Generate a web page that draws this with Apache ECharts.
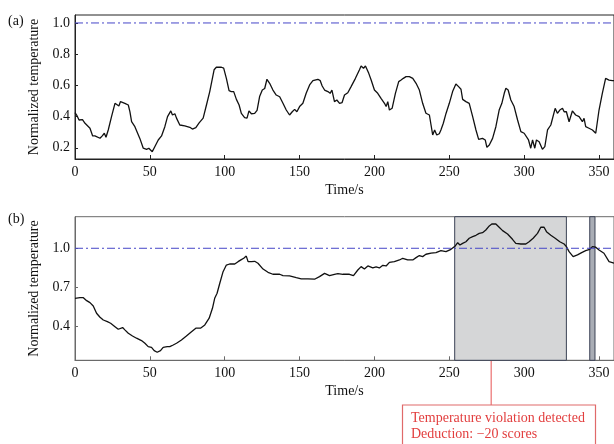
<!DOCTYPE html>
<html>
<head>
<meta charset="utf-8">
<script src="https://cdn.jsdelivr.net/npm/echarts@6/dist/echarts.min.js"></script>
<style>
  html, body { margin: 0; padding: 0; background: #fff; }
  #chart { width: 614px; height: 444px; }
</style>
</head>
<body>
<div id="chart"></div>
<script>
// Panel (a): normalized temperature over time
const timeA = [0,1.1,2.7,4,5,6.7,10,11.8,13.3,14.4,16.7,18.2,19.6,20.7,22.2,24.4,26.7,27.8,29.3,30.4,33.3,35.6,36.7,37.8,40,43.3,45.6,47.8,49.3,51.6,53.3,55.6,57.8,60,61.8,64,65.1,66.7,67.8,70,73.3,76.7,78.4,80.7,82.9,85.6,87.8,90,92.9,94.4,97.8,99.3,101.1,102.9,104.4,106,107.8,109.6,111.1,113.3,114.9,116.2,117.8,120,121.6,123.3,125.1,126.7,128.2,130,132.2,134.4,136.7,138.9,141.1,143.3,145.1,146.7,148.2,150,152.2,154.4,156.7,158.9,160,162.2,163.8,165.1,166.7,168.9,170.4,171.6,173.3,174.9,176.7,178.4,180,182.2,184.4,187.3,190,191.1,192.7,194,196.2,197.8,200,202.2,204.4,206.7,207.8,208.9,210,211.8,214,216.2,217.8,219.3,221.1,223.3,225.6,227.8,230,232.2,234.4,236.7,237.8,238.9,240.2,241.6,243.3,244.4,246,247.8,250,252.2,254.4,256.2,257.8,258.9,261.1,263.3,265.6,267.8,269.6,272.2,274,275.1,276.7,278.9,281.1,283.3,285.1,286.7,287.8,289.3,291.1,293.3,295.6,297.8,300,302.9,304.4,305.6,307.1,308.2,310,312.2,313.8,315.6,317.8,320.7,322.2,323.8,325.6,326.7,328.2,330,332.2,334.4,336.7,338.9,340,341.1,343.3,345.6,347.8,350,352.2,354.4,356.7,358.9,360];
const tempA = [0.425,0.41,0.378,0.39,0.38,0.357,0.325,0.276,0.276,0.267,0.261,0.276,0.293,0.267,0.314,0.40,0.485,0.496,0.468,0.496,0.485,0.474,0.43,0.367,0.335,0.26,0.197,0.19,0.197,0.175,0.207,0.25,0.276,0.335,0.40,0.436,0.41,0.418,0.39,0.346,0.34,0.331,0.32,0.329,0.36,0.39,0.474,0.56,0.70,0.716,0.716,0.71,0.645,0.566,0.56,0.56,0.51,0.474,0.42,0.393,0.39,0.436,0.418,0.42,0.44,0.528,0.57,0.58,0.639,0.613,0.57,0.538,0.527,0.485,0.442,0.41,0.431,0.446,0.431,0.464,0.485,0.549,0.603,0.63,0.634,0.639,0.63,0.596,0.57,0.56,0.549,0.57,0.496,0.506,0.485,0.49,0.538,0.553,0.592,0.645,0.70,0.724,0.71,0.724,0.677,0.634,0.57,0.549,0.517,0.485,0.464,0.496,0.442,0.453,0.549,0.624,0.634,0.645,0.656,0.656,0.645,0.613,0.57,0.485,0.421,0.41,0.346,0.282,0.314,0.282,0.29,0.314,0.357,0.42,0.485,0.56,0.609,0.592,0.575,0.51,0.496,0.485,0.40,0.314,0.254,0.26,0.25,0.203,0.218,0.26,0.335,0.442,0.485,0.549,0.581,0.57,0.506,0.464,0.378,0.303,0.293,0.25,0.197,0.25,0.197,0.25,0.239,0.19,0.207,0.314,0.346,0.453,0.421,0.442,0.453,0.431,0.431,0.367,0.436,0.41,0.40,0.367,0.389,0.335,0.325,0.314,0.293,0.442,0.549,0.645,0.634,0.63,0.63];

// Panel (b): normalized temperature over time
const timeB = [0,1.1,3.3,5.6,7.8,10,12.2,14.4,16.7,18.9,21.6,23.8,26.7,28.9,31.8,33.3,35.6,38.4,41.1,44.4,46.7,48.9,51.1,52.9,54.9,57.1,58.9,61.6,63.3,65.6,67.8,71.1,74.4,77.8,80.7,83.8,86.7,89.6,91.8,93.3,94.9,96.7,98.9,101.1,103.3,106.7,108.9,111.1,112.7,114.4,115.6,117.8,120,122.2,125.6,128.9,132.2,136.7,138.9,143.3,147.8,151.1,152.2,155.6,160,163.3,166.7,170,173.3,175.6,178.9,183.3,186,188.9,191.1,193.3,195.6,198.9,201.1,203.3,205.6,207.8,210,213.3,216.7,218.9,222.2,225.6,227.8,230,232.2,234.4,237.8,241.1,244.4,247.8,251.1,254,255.6,257.1,258.9,261.1,263.3,265.6,267.8,270,272.2,274.4,276.7,278.4,281.1,283.3,285.6,288.9,292.2,294.4,297.8,301.1,303.3,306,308.9,311.1,313.3,314.9,317.8,320.7,323.8,326.7,328.2,330,332.7,335.6,338.4,341.1,343.8,345.6,347.8,350,353.3,356.7,358.9,360];
const tempB = [0.615,0.628,0.62,0.62,0.597,0.582,0.556,0.50,0.469,0.448,0.436,0.423,0.397,0.377,0.39,0.372,0.346,0.325,0.308,0.29,0.269,0.243,0.238,0.212,0.2,0.212,0.238,0.243,0.243,0.256,0.269,0.294,0.325,0.358,0.385,0.385,0.41,0.462,0.538,0.615,0.654,0.731,0.82,0.871,0.879,0.879,0.897,0.913,0.923,0.94,0.897,0.897,0.9,0.885,0.84,0.815,0.80,0.80,0.79,0.788,0.774,0.764,0.749,0.764,0.762,0.782,0.807,0.79,0.80,0.805,0.80,0.80,0.79,0.833,0.859,0.841,0.864,0.849,0.856,0.849,0.869,0.864,0.892,0.897,0.91,0.923,0.91,0.91,0.928,0.944,0.936,0.954,0.962,0.967,0.982,0.974,0.992,1.018,1.043,1.025,1.038,1.05,1.077,1.09,1.10,1.115,1.12,1.141,1.172,1.187,1.187,1.162,1.136,1.11,1.069,1.038,1.033,1.033,1.05,1.077,1.115,1.162,1.162,1.128,1.10,1.077,1.05,1.033,1.013,0.974,0.936,0.949,0.967,0.982,0.992,1.013,1.008,0.987,0.962,0.897,0.89,0.885];

// Threshold and violation intervals (seconds)
const threshold = 1.0;
const violations = [[253.6, 328.2], [343.8, 347.3]];

// Axis tick values
const xTicks = [0, 50, 100, 150, 200, 250, 300, 350];
const yTicksA = [0.2, 0.4, 0.6, 0.8, 1.0];
const yTicksB = [0.4, 0.7, 1.0];

const FONT = 'Liberation Serif';
const pairs = (xs, ys) => xs.map((x, i) => [x, ys[i]]);

function xAxisOf(gridIndex, lineColor) {
  return {
    type: 'value', gridIndex, min: 0, max: 360, interval: 50,
    name: 'Time/s', nameLocation: 'middle', nameGap: 24,
    nameTextStyle: { fontFamily: FONT, fontSize: 14, color: '#111' },
    axisLine: { show: true, lineStyle: { color: lineColor, width: 1 } },
    axisTick: { show: true, inside: true, length: 4, customValues: xTicks, lineStyle: { color: lineColor } },
    axisLabel: { fontFamily: FONT, fontSize: 14, color: '#111', margin: 6, customValues: xTicks },
    splitLine: { show: false }
  };
}
function yAxisOf(gridIndex, min, max, ticks, lineColor) {
  return {
    type: 'value', gridIndex, min, max,
    name: 'Normalized temperature', nameLocation: 'middle', nameGap: 33, nameRotate: 90,
    nameTextStyle: { fontFamily: FONT, fontSize: 14, color: '#111' },
    axisLine: { show: true, lineStyle: { color: lineColor, width: 1 } },
    axisTick: { show: true, inside: true, length: 3, customValues: ticks, lineStyle: { color: lineColor } },
    axisLabel: { fontFamily: FONT, fontSize: 14, color: '#111', margin: 5,
      customValues: ticks, formatter: v => v.toFixed(1) },
    splitLine: { show: false }
  };
}

// Dash-dot threshold line across the full time range of a panel
function thresholdSeries(idx) {
  return {
    type: 'line', xAxisIndex: idx, yAxisIndex: idx,
    data: [[0, threshold], [360, threshold]],
    showSymbol: false, symbol: 'none', silent: true, z: 6,
    color: '#4646c8',
    lineStyle: { color: '#4646c8', width: 1, type: [8, 3, 2, 3] }
  };
}

const chart = echarts.init(document.getElementById('chart'), null, { renderer: 'canvas' });
chart.setOption({
  animation: false,
  backgroundColor: '#fff',
  grid: [
    { left: 75, top: 15, width: 540, height: 144, show: true, borderColor: '#222', borderWidth: 1, backgroundColor: 'transparent' },
    { left: 75, top: 216.7, width: 540, height: 143.6, show: true, borderColor: '#6a6a6a', borderWidth: 1, backgroundColor: 'transparent' }
  ],
  xAxis: [xAxisOf(0, '#222'), xAxisOf(1, '#6a6a6a')],
  yAxis: [yAxisOf(0, 0.128, 1.051, yTicksA, '#222'), yAxisOf(1, 0.138, 1.243, yTicksB, '#6a6a6a')],
  series: [
    {
      type: 'line', xAxisIndex: 0, yAxisIndex: 0, data: pairs(timeA, tempA),
      showSymbol: false, symbol: 'none', color: '#111',
      lineStyle: { color: '#111', width: 1.3 }, z: 5
    },
    thresholdSeries(0),
    {
      type: 'line', xAxisIndex: 1, yAxisIndex: 1, data: pairs(timeB, tempB),
      showSymbol: false, symbol: 'none', color: '#111',
      lineStyle: { color: '#111', width: 1.3 }, z: 5,
      markArea: {
        silent: true,
        data: violations.map((v, i) => [
          { xAxis: v[0], itemStyle: i === 0
              ? { color: '#d5d6d7', borderColor: '#3b4255', borderWidth: 1 }
              : { color: '#a9adb5', borderColor: '#3b4255', borderWidth: 1 } },
          { xAxis: v[1] }
        ])
      }
    },
    thresholdSeries(1)
  ]
});

// Panel letters and the violation callout
const tip = chart.convertToPixel({ xAxisIndex: 1, yAxisIndex: 1 }, [278, 0.587]);
const boxTop = 405;
chart.setOption({
  graphic: [
    { type: 'text', left: 8, top: 14, style: { text: '(a)', font: '14px "Liberation Serif"', fill: '#111' } },
    { type: 'text', left: 8, top: 212, style: { text: '(b)', font: '14px "Liberation Serif"', fill: '#111' } },
    { type: 'line', shape: { x1: tip[0], y1: tip[1], x2: tip[0], y2: boxTop },
      style: { stroke: '#ef8c8c', lineWidth: 1.5 }, silent: true },
    { type: 'rect', shape: { x: 402.5, y: boxTop, width: 193, height: 60 },
      style: { fill: '#fff', stroke: '#e06a6a', lineWidth: 1.2 }, silent: true },
    { type: 'text', x: 411, y: 410, style: { text: 'Temperature violation detected\nDeduction: \u221220 scores',
      font: '14px "Liberation Serif"', fill: '#e23e3e', lineHeight: 16 }, silent: true }
  ]
});
</script>
</body>
</html>
